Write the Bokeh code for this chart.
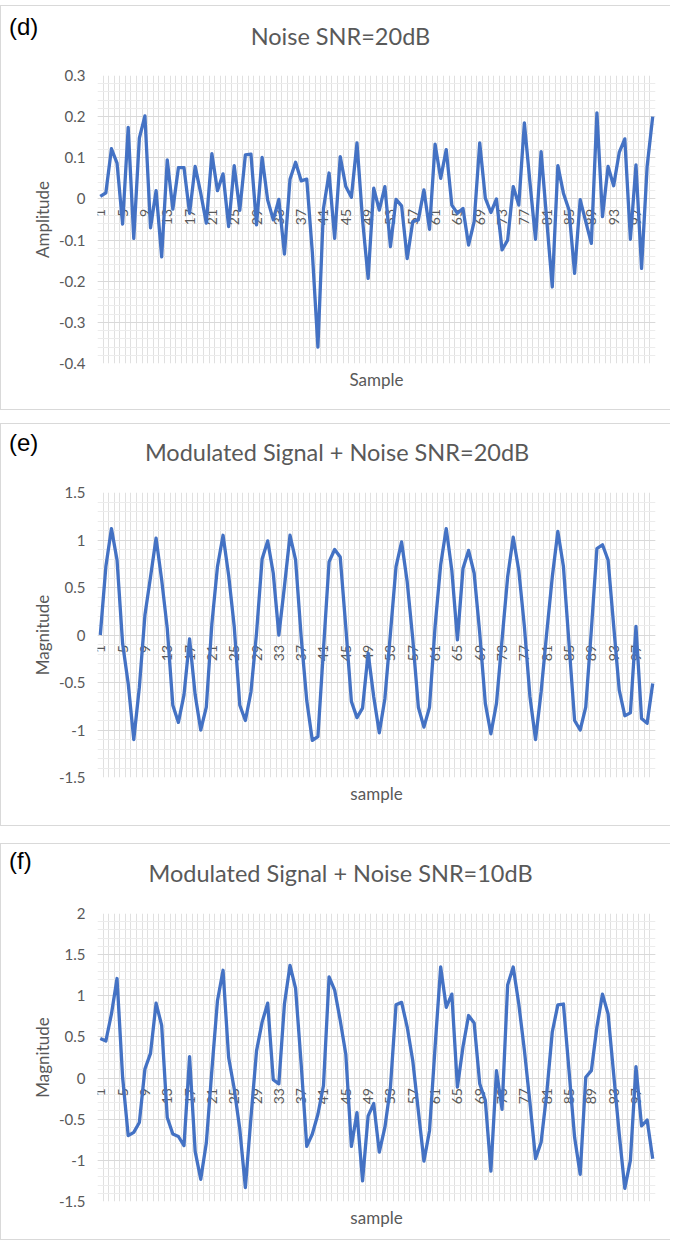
import numpy as np
from bokeh.plotting import figure
from bokeh.models import FixedTicker, Spacer, ColumnDataSource, Div
from bokeh.layouts import column
from bokeh.embed import file_html
from bokeh.resources import INLINE
from bokeh.core.properties import value

# ---------------- data ----------------
samples = list(range(1, 101))
tick_samples = list(range(1, 101, 4))
tick_labels = [str(s) for s in tick_samples]

noise_20db = [
    0.006, 0.015, 0.122, 0.087, -0.061, 0.174, -0.096, 0.148, 0.202, -0.07,
    0.02, -0.141, 0.095, -0.025, 0.076, 0.076, -0.035, 0.079, 0.014, -0.059,
    0.11, 0.02, 0.061, -0.067, 0.081, -0.028, 0.107, 0.109, -0.063, 0.101,
    -0.003, -0.051, -0.001, -0.134, 0.048, 0.089, 0.044, 0.048, -0.13, -0.36,
    -0.023, 0.063, -0.096, 0.103, 0.03, 0.004, 0.136, -0.051, -0.193, 0.026,
    -0.027, 0.03, -0.116, -0.001, -0.017, -0.145, -0.055, -0.051, 0.022, -0.074,
    0.133, 0.05, 0.12, -0.015, -0.035, -0.023, -0.112, -0.055, 0.136, 0.002,
    -0.033, 0.0, -0.124, -0.1, 0.03, -0.015, 0.185, 0.04, -0.098, 0.115,
    -0.05, -0.214, 0.081, 0.014, -0.027, -0.181, -0.002, -0.055, -0.108, 0.209,
    -0.043, 0.079, 0.032, 0.113, 0.146, -0.098, 0.083, -0.169, 0.079, 0.2,
]

signal_noise_20db = [
    0.0, 0.72, 1.12, 0.79, -0.09, -0.51, -1.1, -0.55, 0.21, 0.61,
    1.02, 0.58, 0.07, -0.74, -0.92, -0.63, -0.04, -0.63, -1.0, -0.76,
    0.12, 0.72, 1.05, 0.63, 0.09, -0.74, -0.9, -0.6, 0.02, 0.8,
    0.99, 0.65, 0.0, 0.51, 1.05, 0.79, -0.02, -0.69, -1.11, -1.07,
    -0.15, 0.77, 0.9, 0.82, 0.08, -0.7, -0.87, -0.77, -0.19, -0.65,
    -1.03, -0.67, 0.02, 0.72, 0.98, 0.56, -0.04, -0.76, -0.97, -0.76,
    0.09, 0.74, 1.12, 0.68, -0.05, 0.7, 0.89, 0.65, 0.02, -0.72,
    -1.04, -0.72, -0.05, 0.61, 1.03, 0.68, 0.09, -0.65, -1.1, -0.6,
    0.02, 0.61, 1.09, 0.72, -0.09, -0.9, -1.0, -0.76, 0.05, 0.91,
    0.95, 0.79, 0.1, -0.58, -0.85, -0.82, 0.09, -0.88, -0.93, -0.51,
]

signal_noise_10db = [
    0.48, 0.45, 0.78, 1.21, 0.01, -0.70, -0.66, -0.54, 0.11, 0.3,
    0.91, 0.64, -0.48, -0.68, -0.71, -0.82, 0.26, -0.89, -1.23, -0.79,
    0.1, 0.94, 1.31, 0.25, -0.13, -0.62, -1.33, -0.48, 0.33, 0.68,
    0.91, -0.02, -0.07, 0.9, 1.37, 1.09, 0.17, -0.83, -0.68, -0.44,
    -0.09, 1.23, 1.07, 0.70, 0.29, -0.83, -0.42, -1.25, -0.46, -0.31,
    -0.9, -0.6, -0.11, 0.89, 0.92, 0.62, 0.21, -0.4, -1.01, -0.64,
    0.38, 1.35, 0.86, 1.02, -0.11, 0.38, 0.76, 0.67, -0.07, -0.27,
    -1.13, 0.09, -0.38, 1.13, 1.35, 0.9, 0.34, -0.3, -0.98, -0.78,
    -0.19, 0.56, 0.89, 0.9, 0.09, -0.72, -1.17, 0.01, 0.09, 0.62,
    1.02, 0.78, 0.05, -0.68, -1.34, -1.0, 0.14, -0.58, -0.51, -0.98,
]

d_yticks = [-0.4, -0.3, -0.2, -0.1, 0, 0.1, 0.2, 0.3]
d_ylabels = ["-0.4", "-0.3", "-0.2", "-0.1", "0", "0.1", "0.2", "0.3"]
e_yticks = [-1.5, -1, -0.5, 0, 0.5, 1, 1.5]
e_ylabels = ["-1.5", "-1", "-0.5", "0", "0.5", "1", "1.5"]
f_yticks = [-1.5, -1, -0.5, 0, 0.5, 1, 1.5, 2]
f_ylabels = ["-1.5", "-1", "-0.5", "0", "0.5", "1", "1.5", "2"]

# ---------------- style ----------------
LINE = "#4472C4"
TXT = "#595959"
FONT = "Lato"
W = 670
BORDER = "1px solid #d9d9d9"


def make_header(tag, title, height, tag_x, tag_y, title_cx, title_y):
    html = (
        f'<div style="position:relative;width:{W - 1}px;height:{height - 1}px;">'
        f'<span style="position:absolute;left:{tag_x}px;top:{tag_y}px;transform:translateY(-50%);'
        f'font-family:\'Liberation Sans\';font-size:24px;line-height:1;color:#000;white-space:nowrap;">{tag}</span>'
        f'<span style="position:absolute;left:{title_cx - 300}px;width:600px;top:{title_y}px;'
        f'transform:translateY(-50%);text-align:center;font-family:{FONT};font-size:23.5px;'
        f'line-height:1;color:{TXT};white-space:nowrap;">{title}</span>'
        '</div>'
    )
    return Div(text=html, width=W, height=height, margin=(0, 0, 0, 0), align="center",
               styles={"border-top": BORDER, "border-left": BORDER,
                       "box-sizing": "border-box", "background": "white", "overflow": "hidden"})


def make_chart(yvals, ylabel, xlabel, yticks, ylabels, height, bl, br, bt, bb):
    ylo, yhi = yticks[0], yticks[-1]
    p = figure(width=W, height=height, x_range=(0.5, 100.5), y_range=(ylo, yhi),
               output_backend="svg", toolbar_location=None, align="center",
               min_border_left=bl, min_border_right=br,
               min_border_top=bt, min_border_bottom=bb)
    p.styles = {"border-bottom": BORDER, "border-left": BORDER, "box-sizing": "border-box"}
    p.outline_line_color = None
    p.background_fill_color = "white"
    p.border_fill_color = "white"

    # y axis / horizontal grid
    step = (yticks[1] - yticks[0]) / 5.0
    minor = list(np.round(np.arange(ylo, yhi + step / 2, step), 4))
    p.yaxis.ticker = FixedTicker(ticks=yticks, minor_ticks=minor)
    p.yaxis.major_label_overrides = {t: l for t, l in zip(yticks, ylabels)}
    p.yaxis.axis_line_color = None
    p.yaxis.major_tick_line_color = None
    p.yaxis.minor_tick_line_color = None
    p.yaxis.major_tick_out = 0
    p.yaxis.major_tick_in = 0
    p.yaxis.major_label_standoff = 8
    p.yaxis.major_label_text_font = FONT
    p.yaxis.major_label_text_font_size = "15px"
    p.yaxis.major_label_text_color = TXT
    p.yaxis.axis_label = ylabel
    p.yaxis.axis_label_text_font = FONT
    p.yaxis.axis_label_text_font_size = "17px"
    p.yaxis.axis_label_text_font_style = "normal"
    p.yaxis.axis_label_text_color = TXT
    p.yaxis.axis_label_standoff = 3
    p.ygrid.grid_line_color = "#d9d9d9"
    p.ygrid.minor_grid_line_color = "#ececec"

    # x axis / vertical grid
    p.xaxis.ticker = FixedTicker(ticks=[])
    p.xaxis.axis_line_color = None
    p.xaxis.major_tick_line_color = None
    p.xaxis.minor_tick_line_color = None
    p.xaxis.major_tick_out = 0
    p.xaxis.major_tick_in = 0
    p.xaxis.major_label_standoff = 0
    p.xaxis.major_label_text_font_size = "0px"
    p.xaxis.axis_label = xlabel
    p.xaxis.axis_label_text_font = FONT
    p.xaxis.axis_label_text_font_size = "17px"
    p.xaxis.axis_label_text_font_style = "normal"
    p.xaxis.axis_label_text_color = TXT
    p.xaxis.axis_label_standoff = 5
    p.xgrid.ticker = FixedTicker(ticks=[s - 0.5 for s in samples] + [samples[-1] + 0.5])
    p.xgrid.grid_line_color = "#e0e0e0"

    # category labels hanging from the zero line
    lab_src = ColumnDataSource(dict(x=tick_samples, y=[0] * len(tick_samples), t=tick_labels))
    p.text(x="x", y="y", text="t", source=lab_src, angle=np.pi / 2,
           text_align="right", text_baseline="middle", y_offset=10,
           text_font=value(FONT), text_font_size="14px", text_color=TXT)

    src = ColumnDataSource(dict(x=samples, y=yvals))
    p.line(x="x", y="y", source=src, line_color=LINE, line_width=3.3, line_join="round")
    return p


hd = make_header("(d)", "Noise SNR=20dB", 62, 8, 21, 339.5, 31)
pd_ = make_chart(noise_20db, "Amplitude", "Sample", d_yticks, d_ylabels, 343, 95, 10, 8, 47)
he = make_header("(e)", "Modulated Signal + Noise SNR=20dB", 61, 8, 18.5, 336, 29)
pe_ = make_chart(signal_noise_20db, "Magnitude", "sample", e_yticks, e_ylabels, 342, 94, 16, 8, 49)
hf = make_header("(f)", "Modulated Signal + Noise SNR=10dB", 62, 8, 17, 339.6, 30)
pf_ = make_chart(signal_noise_10db, "Magnitude", "sample", f_yticks, f_ylabels, 335, 96, 10, 8, 39)

layout = column(Spacer(height=5), hd, pd_, Spacer(height=13), he, pe_, Spacer(height=17), hf, pf_,
                spacing=0)

open("out.html", "w").write(file_html(layout, INLINE))
